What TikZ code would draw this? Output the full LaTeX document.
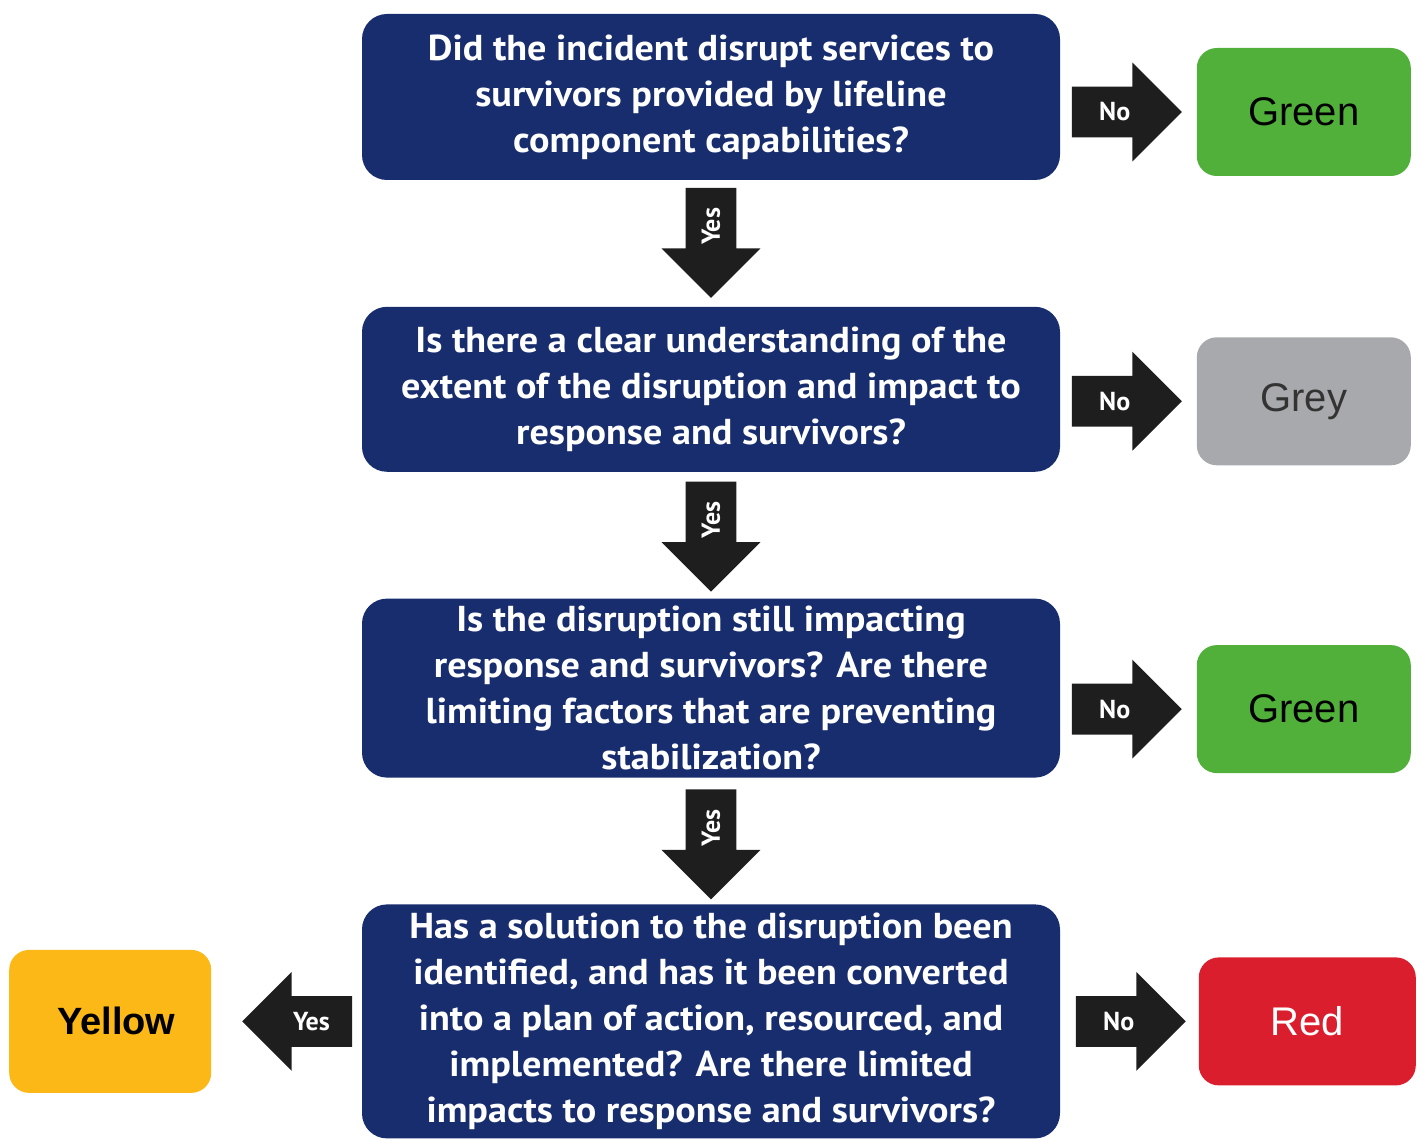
\documentclass[tikz,border=0pt]{standalone}
\usepackage{fontspec}
\setmainfont{Liberation Sans}
\newfontfamily\qfont[FakeStretch=1.06]{PT Sans}
\newfontfamily\tagfont{PT Sans}
\usetikzlibrary{
	positioning,
	calc,
	shapes.arrows
}

\definecolor{qblue}{RGB}{24,45,110}
\definecolor{arrowblack}{RGB}{30,30,30}
\definecolor{okgreen}{RGB}{80,176,58}
\definecolor{greybox}{RGB}{168,169,172}
\definecolor{redbox}{RGB}{218,30,45}
\definecolor{yellowbox}{RGB}{251,184,23}

\begin{document}
\begin{tikzpicture}[
	x=1pt, y=1pt,
	node distance = 63pt and 68pt,
	question/.style = {
		rectangle, rounded corners=12.5pt, fill=qblue,
		text=white, align=center, inner sep=2pt,
		font=\qfont\bfseries\fontsize{18}{23}\selectfont,
		minimum width=349pt
	},
	outcome/.style args = {#1/#2}{
		rectangle, rounded corners=10pt, fill=#1, text=#2,
		minimum width=107pt, minimum height=64pt,
		font=\fontsize{20}{24}\selectfont
	},
	blockarrow/.style = {
		single arrow, fill=arrowblack, draw=none,
		minimum height=55pt, inner xsep=0pt, inner ysep=12.5pt,
		single arrow head extend=12pt
	},
	downarrow/.style = {
		blockarrow, shape border rotate=270,
		inner xsep=12.5pt, inner ysep=0pt
	},
	tag/.style = {
		text=white, inner sep=0pt,
		font=\tagfont\bfseries\fontsize{13}{13}\selectfont
	}
]
	\useasboundingbox (0,0) rectangle (710.5,-569.5);

	% questions
	\node (q1) [question, minimum height=83pt] at (355.5,-48.5)
		{Did the incident disrupt services to\\survivors provided by lifeline\\component capabilities?};
	\node (q2) [question, minimum height=82.5pt, below=of q1]
		{Is there a clear understanding of the\\extent of the disruption and impact to\\response and survivors?};
	\node (q3) [question, minimum height=89.5pt, below=of q2]
		{Is the disruption still impacting\\response and survivors? Are there\\limiting factors that are preventing\\stabilization?};
	\node (q4) [question, minimum height=117pt, below=of q3]
		{Has a solution to the disruption been\\identified, and has it been converted\\into a plan of action, resourced, and\\implemented? Are there limited\\impacts to response and survivors?};

	% outcomes
	\node (g1) [outcome={okgreen/black}, right=of q1, yshift=-7.5pt] {Green};
	\node (gy) [outcome={greybox/black!80}, right=of q2, yshift=-6pt] {Grey};
	\node (g2) [outcome={okgreen/black}, right=of q3, yshift=-10.5pt] {Green};
	\node (rd) [outcome={redbox/white}, minimum width=108.5pt, right=69pt of q4] {Red};
	\node (yl) [outcome={yellowbox/black}, minimum width=101pt, minimum height=71.5pt,
		font=\bfseries\fontsize{19}{23}\selectfont, left=75pt of q4] {\hspace*{6pt}Yellow};

	% yes arrows down
	\node (d1) [downarrow, anchor=tail] at ($(q1.south)-(0,3.5)$) {};
	\node [tag, rotate=90] at ($(d1.tail)!0.35!(d1.tip)$) {Yes};
	\node (d2) [downarrow, anchor=tail] at ($(q2.south)-(0,4.5)$) {};
	\node [tag, rotate=90] at ($(d2.tail)!0.35!(d2.tip)$) {Yes};
	\node (d3) [downarrow, anchor=tail] at ($(q3.south)-(0,5.5)$) {};
	\node [tag, rotate=90] at ($(d3.tail)!0.35!(d3.tip)$) {Yes};

	% no arrows right
	\node (a1) [blockarrow, anchor=tip] at ($(g1.west)-(7,0)$) {};
	\node [tag] at ($(a1.tail)!0.39!(a1.tip)$) {No};
	\node (a2) [blockarrow, anchor=tip] at ($(gy.west)-(7,0)$) {};
	\node [tag] at ($(a2.tail)!0.39!(a2.tip)$) {No};
	\node (a3) [blockarrow, anchor=tip] at ($(g2.west)-(7,0)$) {};
	\node [tag] at ($(a3.tail)!0.39!(a3.tip)$) {No};
	\node (a4) [blockarrow, anchor=tip] at ($(rd.west)-(6,0)$) {};
	\node [tag] at ($(a4.tail)!0.39!(a4.tip)$) {No};

	% yes arrow left
	\node (a5) [blockarrow, shape border rotate=180, anchor=tip] at ($(yl.east)+(15,0)$) {};
	\node [tag] at ($(a5.tail)!0.37!(a5.tip)$) {Yes};
\end{tikzpicture}
\end{document}
